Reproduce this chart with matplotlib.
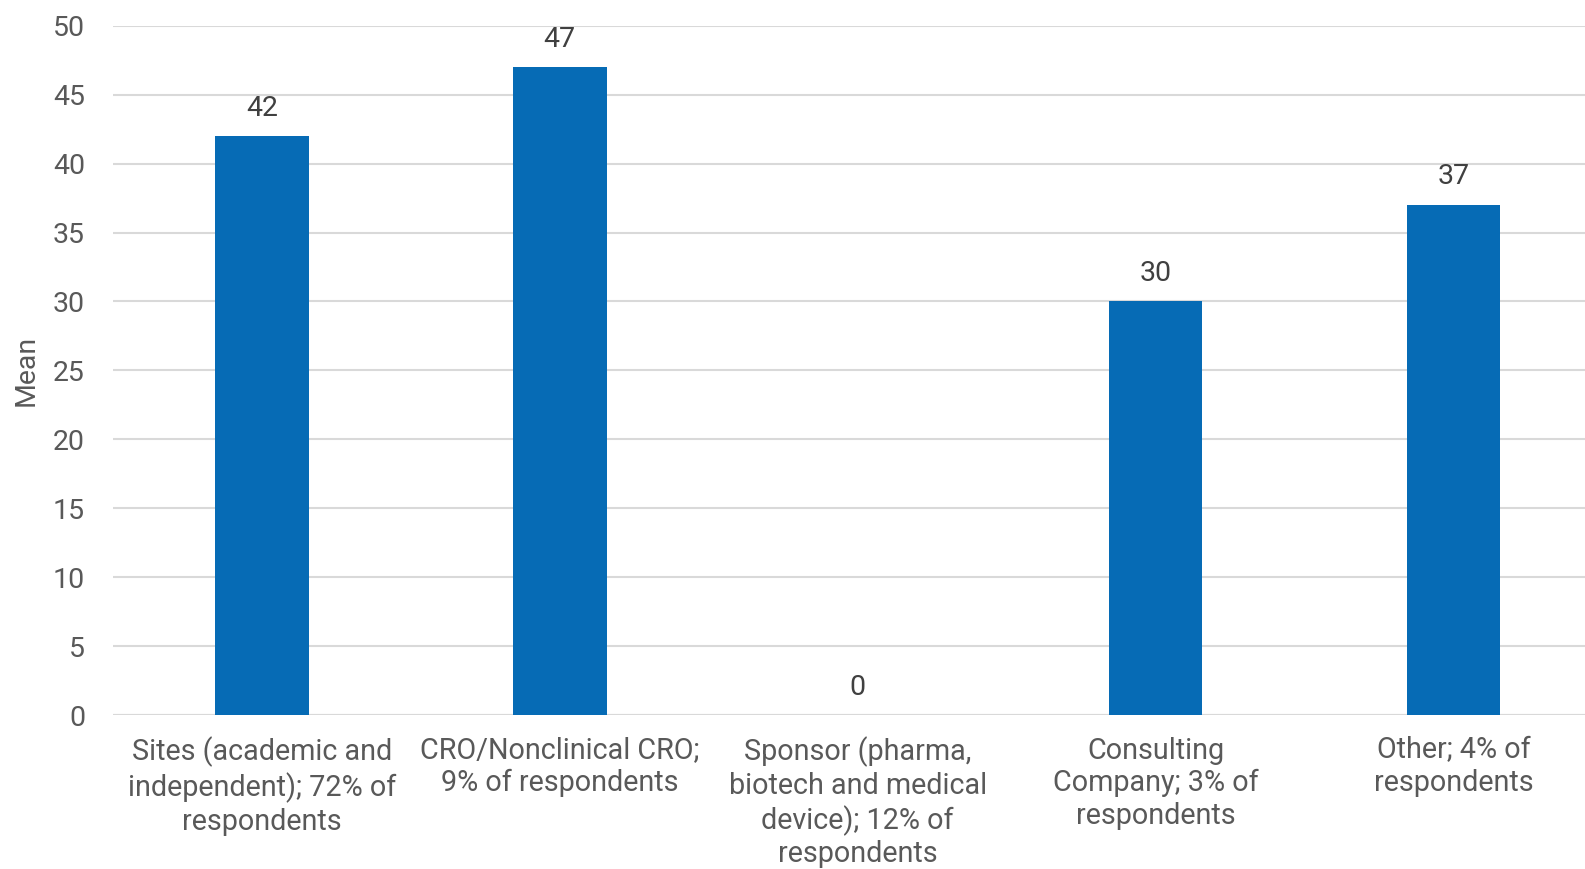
import matplotlib
matplotlib.use("Agg")
import matplotlib.pyplot as plt

categories = [
    "Sites (academic and\nindependent); 72% of\nrespondents",
    "CRO/Nonclinical CRO;\n9% of respondents",
    "Sponsor (pharma,\nbiotech and medical\ndevice); 12% of\nrespondents",
    "Consulting\nCompany; 3% of\nrespondents",
    "Other; 4% of\nrespondents",
]
values = [42, 47, 0, 30, 37]
yticks = [0, 5, 10, 15, 20, 25, 30, 35, 40, 45, 50]

plt.rcParams['font.family'] = ['Roboto', 'DejaVu Sans']

fig = plt.figure(figsize=(15.85, 8.69), dpi=100)
ax = fig.add_axes([0.0712, 0.1772, 0.9398, 0.7932])

x = list(range(len(categories)))
bars = ax.bar(x, values, width=0.315, color="#066bb5", zorder=3)
for xi, v in zip(x, values):
    ax.text(xi, v + 1.05, f"{v}", ha="center", va="bottom", fontsize=20.5, color="#404040")

ax.set_xlim(-0.5, len(categories) - 0.5)
ax.set_ylim(0, 50)
ax.set_yticks(yticks)
ax.set_yticklabels([str(t) for t in yticks], fontsize=20.5, color="#595959")
ax.set_xticks(x)
ax.set_xticklabels(categories, fontsize=20.7, color="#595959", linespacing=1.21)
ax.tick_params(axis="x", length=0, pad=15.5)
ax.tick_params(axis="y", length=0, pad=20)
ax.yaxis.grid(True, color="#d9d9d9", linewidth=1.5, zorder=0)
for s in ax.spines.values():
    s.set_visible(False)
ax.axhline(0, color="#d9d9d9", linewidth=1.5, zorder=2)
ax.set_ylabel("Mean", fontsize=20.5, color="#595959")
ax.yaxis.set_label_coords(-0.049, 0.5)

fig.savefig("out.png", dpi=100)
